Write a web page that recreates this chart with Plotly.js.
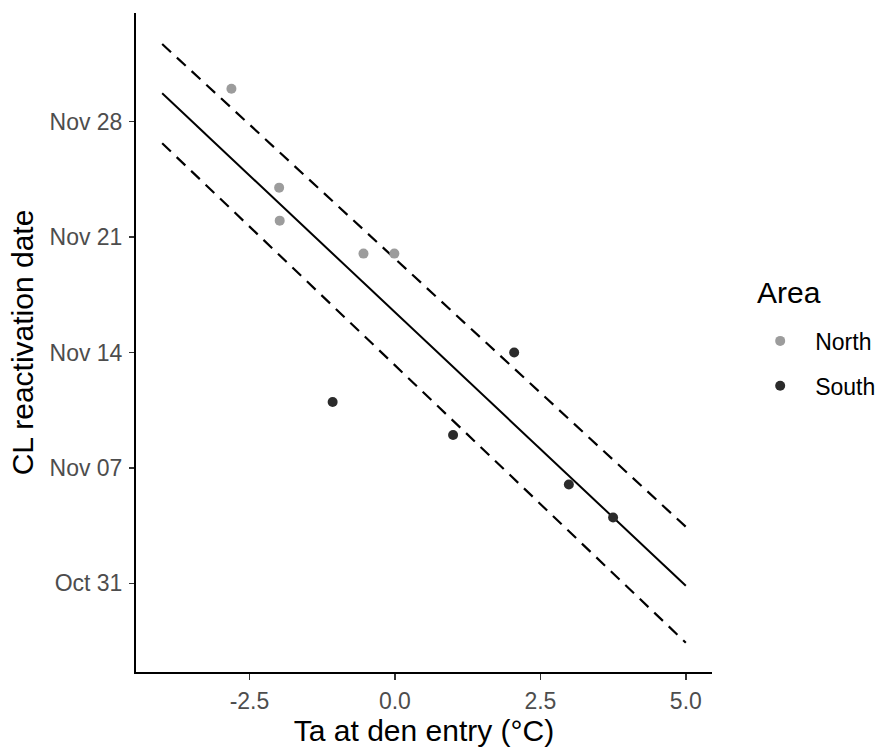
<!DOCTYPE html>
<html>
<head>
<meta charset="utf-8">
<script src="https://cdn.plot.ly/plotly-3.0.1.min.js"></script>
<style>html,body{margin:0;padding:0;background:#fff;}#chart{width:882px;height:747px;}</style>
</head>
<body>
<div id="chart"></div>
<script>
// Data
const northTa = [-2.81, -1.99, -1.98, -0.54, -0.01];
const northDate = ["2020-11-30", "2020-11-24", "2020-11-22", "2020-11-20", "2020-11-20"];
const southTa = [-1.07, 2.05, 1.00, 2.99, 3.75];
const southDate = ["2020-11-11", "2020-11-14", "2020-11-09", "2020-11-06", "2020-11-04"];

const lineTa = [-4, 5];
const fitDate = ["2020-11-29 17:20", "2020-10-30 20:30"];
const upperDate = ["2020-12-02 17:00", "2020-11-03 10:20"];
const lowerDate = ["2020-11-26 16:35", "2020-10-27 09:36"];

const yTickVals = ["2020-10-31", "2020-11-07", "2020-11-14", "2020-11-21", "2020-11-28"];
const yTickText = ["Oct 31", "Nov 07", "Nov 14", "Nov 21", "Nov 28"];
const xTickVals = [-2.5, 0, 2.5, 5];
const xTickText = ["-2.5", "0.0", "2.5", "5.0"];

const FONT = "Liberation Sans, Arial, sans-serif";

const traces = [
  {x: lineTa, y: upperDate, mode: "lines", type: "scatter", showlegend: false, hoverinfo: "skip",
   line: {color: "#000000", width: 2.2, dash: "12px,8px"}},
  {x: lineTa, y: lowerDate, mode: "lines", type: "scatter", showlegend: false, hoverinfo: "skip",
   line: {color: "#000000", width: 2.2, dash: "12px,8px"}},
  {x: lineTa, y: fitDate, mode: "lines", type: "scatter", showlegend: false, hoverinfo: "skip",
   line: {color: "#000000", width: 2.0}},
  {x: northTa, y: northDate, mode: "markers", type: "scatter", name: "North", legendgroup: "n",
   marker: {color: "#9c9c9c", size: 10}},
  {x: southTa, y: southDate, mode: "markers", type: "scatter", name: "South", legendgroup: "s",
   marker: {color: "#2b2b2b", size: 10}}
];

const layout = {
  width: 882, height: 747,
  margin: {l: 136, r: 170, t: 13, b: 75, autoexpand: false},
  paper_bgcolor: "#ffffff", plot_bgcolor: "#ffffff",
  font: {family: FONT, color: "#000000"},
  showlegend: true,
  legend: {
    x: 1.0576, xanchor: "left", y: 0.535, yanchor: "top",
    font: {size: 23, color: "#000000", family: FONT},
    itemwidth: 60, tracegroupgap: 12, bgcolor: "rgba(0,0,0,0)"
  },
  annotations: [
    {text: "Area", xref: "paper", yref: "paper", x: 1.0747, y: 0.5766,
     xanchor: "left", yanchor: "middle", showarrow: false,
     font: {size: 30, color: "#000000", family: FONT}}
  ],
  xaxis: {
    range: [-4.45, 5.45], zeroline: false, showgrid: false,
    showline: true, linecolor: "#000000", linewidth: 2,
    ticks: "outside", ticklen: 6, tickwidth: 1.5, tickcolor: "#333333",
    tickmode: "array", tickvals: xTickVals, ticktext: xTickText,
    tickfont: {size: 23, color: "#4d4d4d", family: FONT},
    ticklabelstandoff: 1,
    title: {text: "Ta at den entry (°C)", font: {size: 30, color: "#000000", family: FONT}, standoff: 0}
  },
  yaxis: {
    type: "date",
    range: ["2020-10-25 15:00", "2020-12-04 14:13"], zeroline: false, showgrid: false,
    showline: true, linecolor: "#000000", linewidth: 2,
    ticks: "outside", ticklen: 5, tickwidth: 1.5, tickcolor: "#333333",
    tickmode: "array", tickvals: yTickVals, ticktext: yTickText,
    tickfont: {size: 23, color: "#4d4d4d", family: FONT},
    ticklabelstandoff: 2,
    title: {text: "CL reactivation date", font: {size: 30, color: "#000000", family: FONT}, standoff: 7}
  }
};

Plotly.newPlot("chart", traces, layout, {staticPlot: true, displayModeBar: false});
</script>
</body>
</html>
